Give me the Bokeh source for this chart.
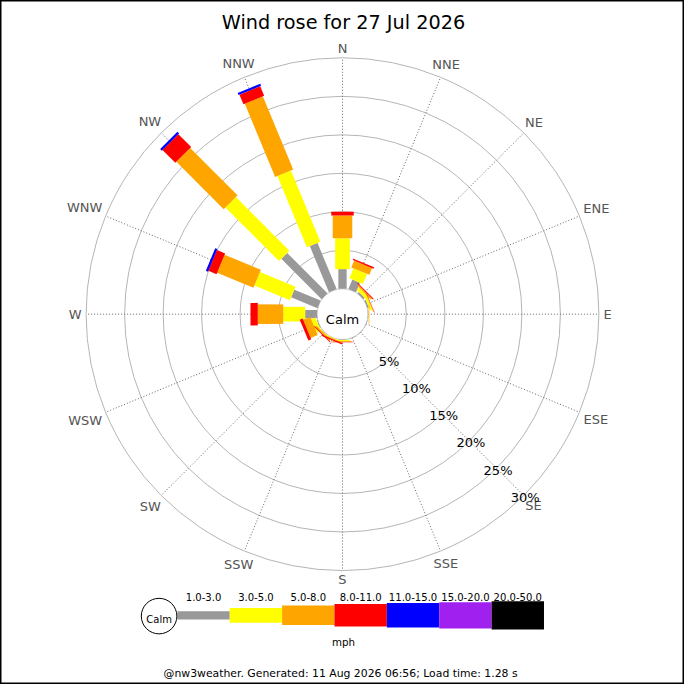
import numpy as np
from bokeh.plotting import figure
from bokeh.models import ColumnDataSource, Range1d
from bokeh.embed import file_html
from bokeh.resources import INLINE
from bokeh.core.properties import value

# ---------------- data ----------------
title_text = "Wind rose for 27 Jul 2026"
footer_text = "@nw3weather. Generated: 11 Aug 2026 06:56; Load time: 1.28 s"
unit_text = "mph"
calm_text = "Calm"

directions = ["N", "NNE", "NE", "ENE", "E", "ESE", "SE", "SSE",
              "S", "SSW", "SW", "WSW", "W", "WNW", "NW", "NNW"]
speed_bins = ["1.0-3.0", "3.0-5.0", "5.0-8.0", "8.0-11.0",
              "11.0-15.0", "15.0-20.0", "20.0-50.0"]

# frequency (% of time) per direction for each speed bin
pct_1_3 = [2.55, 1.35, 0.25, 0.20, 0.05, 0.05, 0.05, 0.05,
           0.05, 0.00, 0.05, 0.10, 1.55, 3.70, 7.40, 6.50]
pct_3_5 = [4.00, 1.40, 0.40, 0.30, 0.05, 0.00, 0.00, 0.00,
           0.15, 0.10, 0.10, 0.60, 2.85, 5.00, 9.85, 10.00]
pct_5_8 = [2.95, 0.95, 0.20, 0.10, 0.08, 0.00, 0.00, 0.00,
           0.10, 0.10, 0.20, 1.00, 3.30, 5.10, 8.70, 10.30]
pct_8_11 = [0.50, 0.20, 0.12, 0.05, 0.00, 0.00, 0.00, 0.00,
            0.05, 0.15, 0.10, 0.40, 0.95, 1.15, 2.35, 1.35]
pct_11_15 = [0.00, 0.00, 0.00, 0.00, 0.00, 0.00, 0.00, 0.00,
             0.00, 0.00, 0.00, 0.00, 0.00, 0.30, 0.30, 0.30]
pct_15_20 = [0.00, 0.00, 0.00, 0.00, 0.00, 0.00, 0.00, 0.00,
             0.00, 0.00, 0.00, 0.00, 0.00, 0.00, 0.00, 0.00]
pct_20_50 = [0.00, 0.00, 0.00, 0.00, 0.00, 0.00, 0.00, 0.00,
             0.00, 0.00, 0.00, 0.00, 0.00, 0.00, 0.00, 0.00]

ring_pcts = [5, 10, 15, 20, 25, 30]
ring_labels = ["5%", "10%", "15%", "20%", "25%", "30%"]

# ---------------- style / layout ----------------
bin_colors = ["#999999", "#ffff00", "#ffa500", "#ff0000",
              "#0000ff", "#a020f0", "#000000"]
FONT = value("DejaVu Sans")

W = H = 684
REF = 700.0           # layout designed on a 700 px canvas
K = W / REF           # canvas scale factor
S = 7.88              # reference pixels per percent
CX, CY = 350.0, 321.0  # reference pixel position of the rose centre
CALM_R = 26.0 / S


def px(xp):
    return (xp - CX) / S


def py(yp):
    return (CY - yp) / S


def fs(v):
    return "%.2fpx" % (v * K)


bin_widths = [w * K for w in [8.5, 15, 20, 23, 25, 27, 29]]

p = figure(width=W, height=H, output_backend="svg", toolbar_location=None,
           x_range=Range1d(px(0), px(REF)), y_range=Range1d(py(REF), py(0)),
           x_axis_type=None, y_axis_type=None, min_border=0,
           background_fill_color="white", border_fill_color="white")
p.grid.visible = False
p.outline_line_color = "black"
p.outline_line_width = 2

theta = np.deg2rad(np.arange(len(directions)) * 22.5)
sin_t, cos_t = np.sin(theta), np.cos(theta)

# rings
ring_r = [CALM_R + r for r in ring_pcts]
p.circle(x=[0] * len(ring_r), y=[0] * len(ring_r), radius=ring_r,
         fill_color=None, line_color="#b5b5b5", line_width=1)

# direction spokes
r_out = CALM_R + ring_pcts[-1]
p.segment(x0=CALM_R * sin_t, y0=CALM_R * cos_t, x1=r_out * sin_t, y1=r_out * cos_t,
          line_color="#555555", line_width=0.9, line_dash="1 2")

# calm circle
p.circle(x=[0], y=[0], radius=CALM_R, fill_color="white",
         line_color="#cccccc", line_width=1)

# bars
series = [pct_1_3, pct_3_5, pct_5_8, pct_8_11, pct_11_15, pct_15_20, pct_20_50]
base = np.full(len(directions), CALM_R)
for k, vals in enumerate(series):
    v = np.array(vals, dtype=float)
    top = base + v
    m = v > 0
    if m.any():
        src = ColumnDataSource(dict(
            x0=base[m] * sin_t[m], y0=base[m] * cos_t[m],
            x1=top[m] * sin_t[m], y1=top[m] * cos_t[m]))
        p.segment("x0", "y0", "x1", "y1", source=src, line_color=bin_colors[k],
                  line_width=bin_widths[k], line_cap="butt")
    base = top

# calm text
p.text(x=[0], y=[py(326)], text=[calm_text], text_font=FONT, text_font_size=fs(13.3),
       text_align="center", text_baseline="alphabetic", text_color="black")

# direction labels
char_w = {"N": 0.748, "E": 0.632, "S": 0.635, "W": 0.989}
lab_r = []
for d, th in zip(directions, theta):
    hw = sum(char_w[c] for c in d) * 13.3 / 2.0
    rp = 267.0 + hw * abs(np.sin(th)) + 5.0 * abs(np.cos(th))
    lab_r.append(rp / S)
lab_r = np.array(lab_r)
p.text(x=lab_r * sin_t, y=lab_r * cos_t, text=directions, text_font=FONT,
       text_font_size=fs(13.3), text_align="center", text_baseline="middle",
       text_color="#555555")

# ring labels along SE
a = np.deg2rad(135)
rr = np.array(ring_r)
p.text(x=rr * np.sin(a) + 1.5 / S, y=rr * np.cos(a) - 2.0 / S, text=ring_labels,
       text_font=FONT, text_font_size=fs(13.3), text_align="center",
       text_baseline="middle", text_color="black")

# title
p.text(x=[px(351)], y=[py(22.7)], text=[title_text], text_font=FONT,
       text_font_size=fs(19.7), text_align="center", text_baseline="alphabetic",
       text_color="black")

# legend
LEG_X0, LEG_SEG, LEG_Y = 181.0, 53.6, 629.2
lx0 = [px(LEG_X0 + k * LEG_SEG) for k in range(len(speed_bins))]
lx1 = [px(LEG_X0 + (k + 1) * LEG_SEG) for k in range(len(speed_bins))]
for k in range(len(speed_bins)):
    p.segment(x0=[lx0[k]], y0=[py(LEG_Y)], x1=[lx1[k]], y1=[py(LEG_Y)],
              line_color=bin_colors[k], line_width=bin_widths[k], line_cap="butt")
p.text(x=[(a0 + a1) / 2 for a0, a1 in zip(lx0, lx1)], y=[py(610.7)] * len(speed_bins),
       text=speed_bins, text_font=FONT, text_font_size=fs(10.3), text_align="center",
       text_baseline="alphabetic", text_color="black")
p.circle(x=[px(162.3)], y=[py(630)], radius=18.2 / S, fill_color="white",
         line_color="black", line_width=1)
p.text(x=[px(162.3)], y=[py(633.7)], text=[calm_text], text_font=FONT,
       text_font_size=fs(10.2), text_align="center", text_baseline="alphabetic",
       text_color="black")
p.text(x=[px(351)], y=[py(656.5)], text=[unit_text], text_font=FONT,
       text_font_size=fs(10.5), text_align="center", text_baseline="alphabetic",
       text_color="black")

# footer
p.text(x=[px(348)], y=[py(689.0)], text=[footer_text], text_font=FONT,
       text_font_size=fs(11.1), text_align="center", text_baseline="alphabetic",
       text_color="black")

open("out.html", "w").write(file_html(p, INLINE))
